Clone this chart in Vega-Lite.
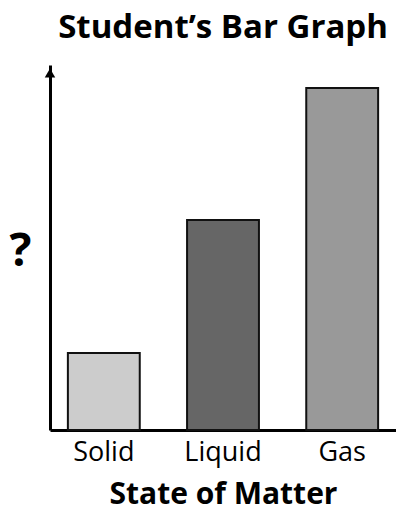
{
  "$schema": "https://vega.github.io/schema/vega-lite/v6.json",
  "autosize": "none",
  "width": 346,
  "height": 365,
  "padding": {"left": 50, "top": 65, "right": 0, "bottom": 88},
  "background": "white",
  "config": {"view": {"stroke": null}, "font": "Open Sans"},
  "title": {"text": "Student’s Bar Graph", "fontSize": 33, "fontWeight": "bold", "color": "black", "anchor": "middle", "offset": 20, "font": "Open Sans"},
  "data": {"values": [
    {"state": "Solid", "value": 77},
    {"state": "Liquid", "value": 210},
    {"state": "Gas", "value": 342}
  ]},
  "layer": [
    {
      "mark": {"type": "bar", "stroke": "#111", "strokeWidth": 2},
      "encoding": {
        "x": {"field": "state", "type": "nominal", "sort": null,
          "scale": {"paddingInner": 0.397, "paddingOuter": 0.15},
          "axis": {"title": "State of Matter", "titleFontSize": 30, "titleFontWeight": "bold", "titleColor": "black", "titlePadding": 14,
            "labelFontSize": 27, "labelColor": "black", "labelAngle": 0, "labelPadding": 9, "ticks": false,
            "domainColor": "black", "domainWidth": 3, "grid": false}},
        "y": {"field": "value", "type": "quantitative", "scale": {"domain": [0, 365], "nice": false},
          "axis": {"title": "?", "titleFontSize": 46, "titleFontWeight": "bold", "titleColor": "black", "titleAngle": 0,
            "titleX": -30, "titleY": 186, "titleAlign": "center", "titleBaseline": "middle",
            "labels": false, "ticks": false, "grid": false, "domainColor": "black", "domainWidth": 3}},
        "fill": {"field": "state", "type": "nominal", "legend": null,
          "scale": {"domain": ["Solid", "Liquid", "Gas"], "range": ["#cccccc", "#666666", "#999999"]}}
      }
    },
    {
      "data": {"values": [{"pos": 0, "top": 357}]},
      "mark": {"type": "point", "shape": "triangle-up", "filled": true, "color": "black", "opacity": 1, "size": 110},
      "encoding": {
        "x": {"field": "pos", "type": "quantitative", "scale": {"domain": [0, 1]}, "axis": null},
        "y": {"field": "top", "type": "quantitative"}
      }
    }
  ],
  "resolve": {"scale": {"x": "independent"}}
}
